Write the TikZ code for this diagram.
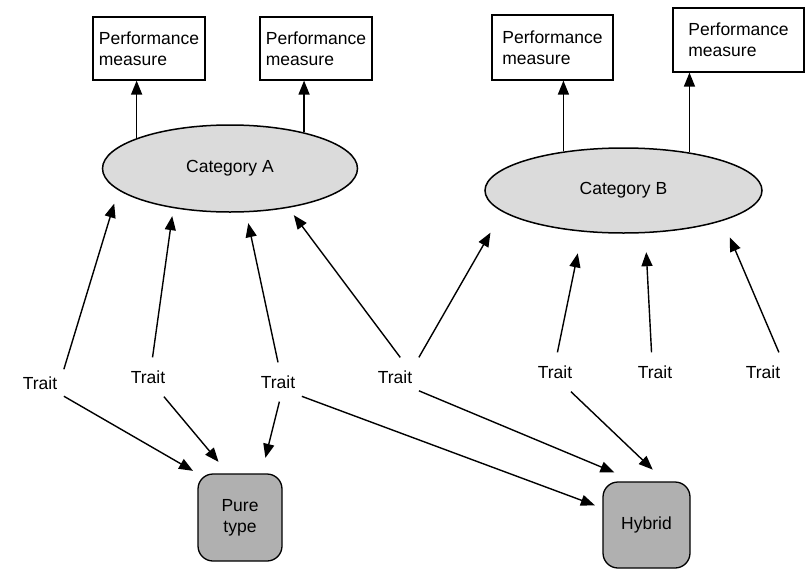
\documentclass[tikz,border=0pt]{standalone}
\usepackage{fontspec}
\setmainfont{Liberation Sans}
\usetikzlibrary{arrows.meta,shapes.geometric}

\begin{document}
\begin{tikzpicture}[x=1pt,y=-1pt,line width=1.4pt,
  font=\fontsize{17.5}{21}\selectfont,
  >={Triangle[length=14pt,width=11pt]},
  pmbox/.style={draw,align=left,minimum height=63pt,inner sep=4pt,line width=1.2pt},
  catell/.style={ellipse,draw,fill=gray!28,inner sep=0pt,line width=1.5pt},
  trait/.style={inner xsep=6pt,inner ysep=12.5pt},
  typebox/.style={draw,rounded corners=15pt,fill=gray!62,align=center,inner sep=2pt,line width=1.3pt}]
  \useasboundingbox (0,0) rectangle (805,570);
  \node[pmbox,minimum width=112pt] (pmA1) at (149,48.5) {Performance\\measure};
  \node[pmbox,minimum width=112pt] (pmA2) at (316,48.5) {Performance\\measure};
  \node[pmbox,minimum width=121pt,minimum height=65pt] (pmB1) at (552.5,47.5) {Performance\\measure};
  \node[pmbox,minimum width=131pt,minimum height=64pt] (pmB2) at (738.5,40) {Performance\\measure};
  \node[catell,minimum width=255pt,minimum height=87pt] (catA) at (230,168.5) {Category A};
  \node[catell,minimum width=277pt,minimum height=85pt] (catB) at (623.5,190.5) {Category B};
  \node[trait] (t1) at (40,383) {Trait};
  \node[trait] (t2) at (148,377) {Trait};
  \node[trait] (t3) at (278,382) {Trait};
  \node[trait] (t4) at (395,377) {Trait};
  \node[trait] (t5) at (555,372) {Trait};
  \node[trait] (t6) at (655,372) {Trait};
  \node[trait] (t7) at (763,372) {Trait};
  \node[typebox,minimum width=84pt,minimum height=87pt] (pure) at (240,517.5) {Pure\\type};
  \node[typebox,minimum width=87pt,minimum height=86pt] (hybrid) at (646.5,525) {Hybrid};
  \draw[->] (catA.162) -- (catA.162 |- pmA1.south);
  \draw[->] (catA.26) -- (catA.26 |- pmA2.south);
  \draw[->] (catB.147) -- (catB.147 |- pmB1.south);
  \draw[->] (catB.30) -- (catB.30 |- pmB2.south);
  \draw[->,shorten >=14pt] (t1.30) -- (catA.191);
  \draw[->,shorten >=8pt] (t2.77) -- (catA.215);
  \draw[->,shorten >=11pt] (t3.north) -- (catA.290);
  \draw[->,shorten >=9pt] (t4.75) -- (catA.326);
  \draw[->,shorten >=24pt] (t4.north east) -- (catB.190);
  \draw[->,shorten >=22pt] (t5.83) -- (catB.225);
  \draw[->,shorten >=19pt] (t6.100) -- (catB.297);
  \draw[->,shorten >=18pt] (t7.51) -- (catB.343);
  \draw[->,shorten >=5pt] (t1.331) -- (pure.north west);
  \draw[->,shorten >=15pt] (t2.309) -- (pure.105);
  \draw[->,shorten >=16pt] (t3.274) -- (pure.64);
  \draw[->,shorten >=8pt] (t3.329) -- (hybrid.159);
  \draw[->,shorten >=23pt] (t4.330) -- (hybrid.104);
  \draw[->,shorten >=17pt] (t5.309) -- (hybrid.67);
\end{tikzpicture}
\end{document}
